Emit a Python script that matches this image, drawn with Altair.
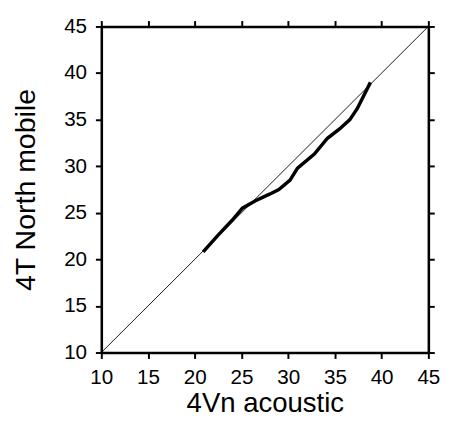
import altair as alt
import pandas as pd

# Thick curve: 4Vn acoustic (x) vs 4T North mobile (y)
acoustic = [20.9, 22.5, 24.0, 25.1, 26.5, 28.0, 29.0, 30.2, 31.0, 32.8, 34.2, 35.5, 36.6, 37.4, 38.8]
mobile = [20.8, 22.6, 24.2, 25.5, 26.3, 27.0, 27.5, 28.5, 29.8, 31.3, 33.0, 34.0, 35.0, 36.2, 39.0]
# 1:1 reference line
diag_x = [10, 45]
diag_y = [10, 45]
ticks = [10, 15, 20, 25, 30, 35, 40, 45]

curve = pd.DataFrame({"x": acoustic, "y": mobile})
diag = pd.DataFrame({"x": diag_x, "y": diag_y})

FONT = "Liberation Sans"
xs = alt.Scale(domain=[10, 45], nice=False, zero=False)
ys = alt.Scale(domain=[10, 45], nice=False, zero=False)

common = dict(domainColor="black", domainWidth=2.6, tickColor="black",
              tickWidth=2, tickSize=6, grid=False, values=ticks,
              labelFlush=False, labelOverlap=False)

line_diag = alt.Chart(diag).mark_line(color="black", strokeWidth=0.9).encode(
    x=alt.X("x:Q", scale=xs, axis=alt.Axis(
        title="4Vn acoustic", orient="bottom", labelFont=FONT, labelFontSize=21,
        labelColor="black", labelPadding=9, titleFont=FONT, titleFontSize=28,
        titleFontWeight="normal", titleColor="black", titleY=60,
        titleBaseline="alphabetic", **common)),
    y=alt.Y("y:Q", scale=ys, axis=alt.Axis(
        title="4T North mobile", orient="left", labelFont=FONT, labelFontSize=21,
        labelColor="black", labelPadding=9, titleFont=FONT, titleFontSize=29,
        titleFontWeight="normal", titleColor="black", titleX=-77,
        titleBaseline="middle", **common)),
)

line_curve = alt.Chart(curve).mark_line(color="black", strokeWidth=3.5).encode(
    x=alt.X("x:Q", scale=xs, axis=alt.Axis(orient="top", labels=False, title=None, **common)),
    y=alt.Y("y:Q", scale=ys, axis=alt.Axis(orient="right", labels=False, title=None, **common)),
)

chart = alt.layer(line_diag, line_curve).resolve_axis(
    x="independent", y="independent"
).properties(
    width=333, height=332,
    autosize=alt.AutoSizeParams(type="none"),
    padding={"left": 95, "top": 15, "right": 20, "bottom": 72},
).configure_view(stroke=None).configure(background="white")

chart.save("out.html", embed_options={"renderer": "svg", "actions": False})
